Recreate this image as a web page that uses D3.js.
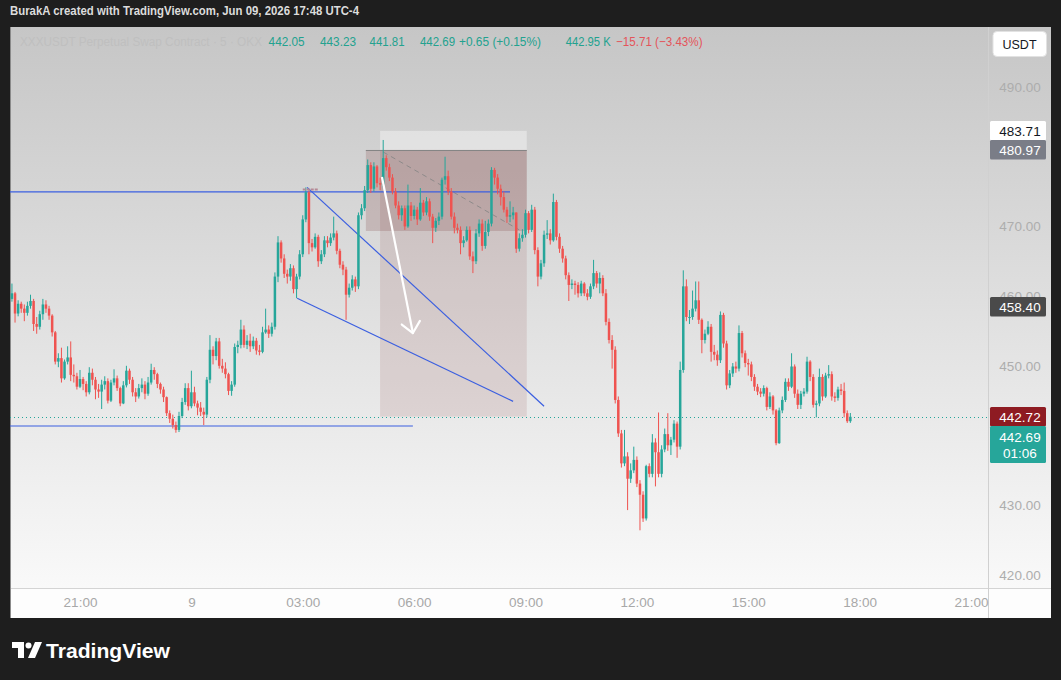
<!DOCTYPE html>
<html><head><meta charset="utf-8">
<script src="https://cdn.jsdelivr.net/npm/d3@7"></script>
<style>
html,body{margin:0;padding:0;background:#1e1e1e;}
svg{display:block;font-family:"Liberation Sans",Arial,sans-serif;}
</style></head><body>
<svg id="c" width="1061" height="680"></svg>
<script>
// ---------------- DATA ----------------
const firstBarTime = new Date(2026, 5, 8, 19, 10);   // 5-minute bars
const barMinutes = 5;
const firstOpen = 459.6;
const closes = [
460.4,457.5,458.9,458.2,457.6,458.6,459.3,456.0,455.6,457.4,
458.8,458.2,457.2,454.8,450.6,451.1,448.2,450.6,451.2,448.7,
448.5,447.0,448.1,447.4,446.2,449.0,448.0,446.6,446.3,447.3,
447.8,445.0,447.6,448.2,446.8,444.6,447.2,449.3,448.0,446.2,
445.6,446.8,447.3,446.0,447.6,449.4,448.8,447.4,446.6,445.5,
443.2,442.4,441.5,440.8,442.8,444.8,446.8,444.2,446.2,444.6,
444.0,443.4,443.0,448.0,452.3,451.4,453.5,450.0,449.6,448.8,
446.4,447.3,452.7,453.0,455.2,453.0,453.6,452.8,453.6,452.2,
452.0,454.8,455.2,454.6,455.6,462.8,467.7,465.4,463.2,462.8,
464.0,461.0,462.8,466.0,471.0,474.9,467.6,467.0,468.5,465.0,
466.0,468.0,467.6,468.4,469.0,466.5,464.5,463.8,460.2,461.2,
462.4,461.4,471.6,472.6,475.2,478.8,475.4,478.6,476.2,476.0,
479.8,478.5,477.0,475.0,473.0,471.6,472.6,470.0,473.0,471.5,
472.4,471.0,473.4,472.0,473.6,471.4,469.8,470.8,471.4,476.7,
477.2,475.0,471.4,469.8,469.5,467.6,468.0,469.5,465.7,465.0,
469.0,470.4,467.2,469.2,470.4,478.1,477.0,475.4,474.2,472.4,
471.4,471.6,472.0,466.8,468.3,468.8,471.9,469.5,472.4,466.6,
462.8,464.7,468.8,469.0,468.0,473.5,468.5,466.8,465.4,463.0,
461.6,461.8,461.6,460.4,461.8,460.4,459.9,461.4,463.3,461.8,
462.6,460.4,456.3,453.7,452.3,445.1,440.3,436.0,437.0,433.8,
435.0,436.5,433.1,431.5,428.1,435.6,434.5,439.0,437.6,434.5,
438.0,440.2,438.6,439.4,441.7,438.4,449.4,461.4,457.0,457.0,
458.2,459.4,456.6,453.7,454.6,455.6,452.0,451.6,450.8,457.3,
453.2,447.2,448.9,449.9,449.6,454.7,451.8,450.4,450.2,448.4,
447.0,446.3,446.0,446.8,444.1,445.6,443.6,438.9,443.6,445.1,
447.7,447.0,449.9,446.0,444.4,446.0,446.3,450.6,448.4,444.4,
444.6,448.4,445.6,448.6,448.8,445.6,445.4,446.6,446.4,443.2,
442.05,442.69
];
const highs = [
461.8,460.6,459.4,459.2,458.8,459.2,460.2,459.6,457.0,457.9,
459.6,459.4,458.6,457.4,455.0,451.8,452.6,450.9,452.8,453.5,
450.2,449.0,449.4,448.4,447.8,449.8,449.6,448.4,447.4,448.0,
448.5,448.2,448.0,449.5,448.6,447.0,447.8,450.0,449.6,448.4,
446.8,447.4,448.2,447.8,448.4,450.3,449.8,449.0,447.6,447.0,
445.6,443.6,443.0,442.0,443.4,445.4,447.5,447.5,449.3,447.0,
445.0,444.8,444.0,448.4,454.4,452.8,454.0,454.0,451.0,450.5,
449.0,447.8,453.2,453.6,456.6,455.8,454.4,454.6,454.2,454.0,
453.0,455.6,458.2,455.8,456.2,463.4,468.6,468.0,466.0,463.8,
464.6,464.4,463.2,466.6,471.6,475.6,475.2,468.2,469.0,468.8,
466.6,468.6,468.6,469.0,471.4,469.4,466.8,465.0,464.2,461.8,
463.0,462.8,472.0,473.2,475.8,479.6,479.2,479.2,478.8,477.0,
482.4,480.2,479.0,477.5,475.5,473.6,473.0,473.0,476.0,473.5,
473.0,472.8,475.5,473.8,474.2,474.0,471.8,471.2,472.0,477.0,
480.0,478.0,475.5,472.0,470.4,470.0,468.6,470.0,470.0,466.4,
469.6,471.0,471.0,470.8,471.0,478.5,478.4,477.5,476.0,475.0,
472.8,473.6,472.8,472.0,469.0,469.6,472.4,472.2,473.1,472.8,
467.0,465.2,469.4,470.9,469.6,474.7,473.8,469.0,467.2,465.8,
463.4,462.4,462.2,462.0,462.2,462.0,461.0,461.8,465.2,463.6,
463.4,463.0,461.0,456.8,454.4,452.8,445.6,440.8,440.8,437.6,
436.0,438.4,437.0,433.6,432.0,435.8,436.0,440.2,439.6,443.3,
438.6,441.0,443.2,439.8,442.2,442.0,450.6,463.7,462.4,458.0,
460.8,462.1,462.1,456.8,455.2,456.4,456.0,453.0,452.2,457.8,
457.6,453.6,449.4,450.4,450.6,455.8,455.0,452.2,451.0,450.6,
448.8,447.4,446.8,447.2,447.0,446.2,445.8,443.8,444.0,445.6,
448.2,448.2,451.8,450.2,446.6,446.4,446.8,451.3,450.8,448.8,
445.0,449.6,448.8,449.0,450.1,449.2,446.2,447.0,447.4,447.6,
443.6,443.23
];
const lows = [
459.2,456.2,457.1,457.6,456.4,457.2,458.2,455.0,454.6,455.2,
456.6,457.6,456.6,454.2,450.2,449.8,447.6,448.0,450.2,447.8,
447.6,446.6,446.8,446.5,445.6,445.9,447.2,445.2,445.4,443.8,
446.6,444.6,444.8,447.2,446.4,444.2,444.5,446.9,447.4,445.6,
444.8,445.3,446.2,445.2,445.7,447.3,448.0,446.8,446.0,444.8,
442.8,441.8,441.0,440.4,440.5,442.5,444.4,443.6,443.9,444.2,
442.9,442.8,441.5,442.6,447.5,450.2,450.8,449.6,449.0,448.2,
445.8,445.7,447.0,451.8,452.5,452.6,452.4,452.0,452.4,451.6,
451.5,451.8,454.6,454.0,454.2,455.2,462.0,464.8,462.6,461.8,
462.2,460.4,459.7,462.4,465.6,470.6,466.0,466.4,466.8,464.2,
464.6,465.6,467.0,467.2,468.0,466.0,464.0,463.0,456.6,459.8,
460.8,460.6,461.0,471.0,472.2,474.8,474.8,475.0,475.6,475.2,
475.6,478.0,476.5,474.6,472.6,471.0,470.8,469.5,469.8,470.8,
471.0,470.2,470.8,471.5,471.6,470.8,467.6,469.2,470.2,471.0,
476.0,474.5,471.0,469.0,469.0,466.0,467.0,467.8,465.2,463.3,
464.6,468.5,466.5,466.8,468.6,470.0,476.0,474.6,473.0,472.0,
470.5,470.6,471.0,466.2,466.4,467.8,468.4,469.0,469.2,466.0,
461.4,462.4,464.2,468.2,467.4,467.8,468.0,466.2,464.8,462.4,
459.3,461.0,460.2,459.8,460.0,460.0,459.4,459.6,461.0,461.2,
460.4,460.0,455.8,453.2,449.6,444.6,439.8,435.4,435.6,429.3,
433.2,434.6,432.6,426.4,427.6,427.8,434.0,434.0,432.7,434.0,
434.0,437.6,437.8,437.2,439.0,436.8,438.0,449.0,456.4,456.0,
456.6,457.8,456.0,451.8,453.2,454.4,450.6,450.8,450.0,450.4,
452.6,446.6,446.8,448.4,449.0,449.2,451.2,449.8,448.6,447.8,
446.4,445.8,445.5,445.6,443.6,443.8,443.0,438.6,438.8,443.2,
444.8,446.4,446.8,445.4,443.8,443.8,445.6,446.0,447.8,444.0,
442.6,444.2,445.0,445.4,448.2,445.0,444.8,445.0,445.8,442.6,
441.8,441.81
];
const priceTicks = [420, 430, 440, 450, 460, 470, 480, 490];
const timeTicks = [
  [new Date(2026,5,8,21,0), "21:00"], [new Date(2026,5,9,0,0), "9"],
  [new Date(2026,5,9,3,0), "03:00"], [new Date(2026,5,9,6,0), "06:00"],
  [new Date(2026,5,9,9,0), "09:00"], [new Date(2026,5,9,12,0), "12:00"],
  [new Date(2026,5,9,15,0), "15:00"], [new Date(2026,5,9,18,0), "18:00"],
  [new Date(2026,5,9,21,0), "21:00"]
];
const legendValues = ["442.05", "443.23", "441.81", "442.69", "+0.65 (+0.15%)", "442.95 K", "\u221215.71 (\u22123.43%)"];
const priceLabels = [
  {v: 483.71, text: "483.71", bg: "#ffffff", fg: "#131722"},
  {v: 480.97, text: "480.97", bg: "#7a7d87", fg: "#ffffff"},
  {v: 458.40, text: "458.40", bg: "#4a4a4a", fg: "#ffffff"},
  {v: 442.72, text: "442.72", bg: "#8e1b22", fg: "#ffffff"}
];
const lastPrice = 442.69, countdown = "01:06";
// drawings: [time, price]
const hLines = [
  [[new Date(2026,5,8,17,0), 474.94], [new Date(2026,5,9,8,35), 474.94]],
  [[new Date(2026,5,8,17,0), 441.36], [new Date(2026,5,9,5,58), 441.36]]
];
const trendLines = [
  [[new Date(2026,5,9,3,7), 475.6], [new Date(2026,5,9,9,30), 444.2]],
  [[new Date(2026,5,9,2,51), 459.7], [new Date(2026,5,9,8,40), 444.9]]
];
const positionTool = {t0: new Date(2026,5,9,5,5), t1: new Date(2026,5,9,9,2), entry: 480.97, stop: 483.71, target: 442.72};
const zoneRect = {t0: new Date(2026,5,9,4,42), t1: new Date(2026,5,9,9,2), top: 480.97, bottom: 469.34};
const dashedLine = [[new Date(2026,5,9,5,10), 480.67], [new Date(2026,5,9,8,50), 469.5]];
const arrowLine = [[new Date(2026,5,9,5,8), 477.1], [new Date(2026,5,9,5,58), 454.7]];

// ---------------- LAYOUT ----------------
const svg = d3.select("#c");
const P = {l: 10, r: 988, t: 27, b: 588, axR: 1051, axB: 618};
const x = d3.scaleTime().domain([new Date(2026,5,8,21,0), new Date(2026,5,9,21,0)]).range([80, 971]);
const y = d3.scaleLinear().domain([420, 490]).range([574.9, 87]);

const defs = svg.append("defs");
const grad = defs.append("linearGradient").attr("id", "bg").attr("x1", 0).attr("y1", 0).attr("x2", 0).attr("y2", 1);
grad.append("stop").attr("offset", "0%").attr("stop-color", "#c6c6c6");
grad.append("stop").attr("offset", "100%").attr("stop-color", "#f9f9f9");
defs.append("clipPath").attr("id", "plot").append("rect")
  .attr("x", P.l).attr("y", P.t).attr("width", P.r - P.l).attr("height", P.b - P.t);

// header
svg.append("text").attr("x", 10).attr("y", 15).attr("fill", "#dcdcdc")
  .attr("font-size", 13).attr("font-weight", 600)
  .attr("textLength", 349).attr("lengthAdjust", "spacingAndGlyphs")
  .text("BurakA created with TradingView.com, Jun 09, 2026 17:48 UTC-4");

// panel backgrounds
svg.append("rect").attr("x", P.l).attr("y", P.t).attr("width", P.axR - P.l).attr("height", P.b - P.t).attr("fill", "url(#bg)");
svg.append("rect").attr("x", P.l).attr("y", P.b).attr("width", P.axR - P.l).attr("height", P.axB - P.b).attr("fill", "#fdfdfd");
svg.append("line").attr("x1", P.l).attr("x2", P.axR).attr("y1", P.b + 0.5).attr("y2", P.b + 0.5).attr("stroke", "#d4d4d4");
svg.append("line").attr("x1", P.r + 0.5).attr("x2", P.r + 0.5).attr("y1", P.t).attr("y2", P.axB).attr("stroke", "#d0d0d0");
svg.append("line").attr("x1", P.l + 0.5).attr("x2", P.l + 0.5).attr("y1", P.t).attr("y2", P.axB).attr("stroke", "#8a8a8a");

const plot = svg.append("g").attr("clip-path", "url(#plot)");

// position tool & zone
const pt = positionTool;
plot.append("rect").attr("x", x(pt.t0)).attr("width", x(pt.t1) - x(pt.t0))
  .attr("y", y(pt.stop)).attr("height", y(pt.entry) - y(pt.stop)).attr("fill", "rgba(255,255,255,0.38)");
plot.append("rect").attr("x", x(pt.t0)).attr("width", x(pt.t1) - x(pt.t0))
  .attr("y", y(pt.entry)).attr("height", y(pt.target) - y(pt.entry)).attr("fill", "rgba(150,80,80,0.15)");
plot.append("rect").attr("x", x(zoneRect.t0)).attr("width", x(zoneRect.t1) - x(zoneRect.t0))
  .attr("y", y(zoneRect.top)).attr("height", y(zoneRect.bottom) - y(zoneRect.top)).attr("fill", "rgba(120,55,55,0.2)");
plot.append("line").attr("x1", x(zoneRect.t0)).attr("x2", x(zoneRect.t1))
  .attr("y1", Math.round(y(pt.entry)) + 0.5).attr("y2", Math.round(y(pt.entry)) + 0.5).attr("stroke", "#858585");
plot.append("line").attr("x1", x(dashedLine[0][0])).attr("y1", y(dashedLine[0][1]))
  .attr("x2", x(dashedLine[1][0])).attr("y2", y(dashedLine[1][1]))
  .attr("stroke", "#8e8a8a").attr("stroke-dasharray", "5,4").attr("stroke-width", 1);

// blue lines
hLines.concat(trendLines).forEach(l => {
  plot.append("line").attr("x1", x(l[0][0])).attr("y1", y(l[0][1])).attr("x2", x(l[1][0])).attr("y2", y(l[1][1]))
    .attr("stroke", "#3b5fe0").attr("stroke-width", 1.2);
});

// last price dotted line
plot.append("line").attr("x1", P.l).attr("x2", P.r).attr("y1", Math.round(y(442.72)) + 0.5).attr("y2", Math.round(y(442.72)) + 0.5)
  .attr("stroke", "#26a69a").attr("stroke-dasharray", "1,3");

// candles
const times = closes.map((_, i) => d3.timeMinute.offset(firstBarTime, barMinutes * i));
const bars = closes.map((c, i) => {
  const o = i === 0 ? firstOpen : closes[i - 1];
  return {t: times[i], o, c, h: Math.max(highs[i], o, c), l: Math.min(lows[i], o, c)};
});
const up = "#26a69a", dn = "#ef5350";
const cg = plot.append("g");
cg.selectAll("rect.w").data(bars).join("rect").attr("class", "w")
  .attr("x", d => x(d.t) - 0.5).attr("width", 1)
  .attr("y", d => y(d.h)).attr("height", d => Math.max(1, y(d.l) - y(d.h)))
  .attr("fill", d => d.c >= d.o ? up : dn);
cg.selectAll("rect.b").data(bars).join("rect").attr("class", "b")
  .attr("x", d => x(d.t) - 1.25).attr("width", 2.5)
  .attr("y", d => y(Math.max(d.o, d.c))).attr("height", d => Math.max(1, Math.abs(y(d.o) - y(d.c))))
  .attr("fill", d => d.c >= d.o ? up : dn);

// small marker at trendline start
plot.append("line").attr("x1", x(new Date(2026,5,9,3,0))).attr("x2", x(new Date(2026,5,9,3,25)))
  .attr("y1", y(475.3)).attr("y2", y(475.3)).attr("stroke", "#b58a96").attr("stroke-width", 2).attr("stroke-dasharray", "3,1");

// arrow
const a0 = [x(arrowLine[0][0]), y(arrowLine[0][1])], a1 = [x(arrowLine[1][0]), y(arrowLine[1][1])];
plot.append("line").attr("x1", a0[0]).attr("y1", a0[1]).attr("x2", a1[0]).attr("y2", a1[1])
  .attr("stroke", "#ffffff").attr("stroke-width", 2.2);
const ang = Math.atan2(a1[1] - a0[1], a1[0] - a0[0]);
const hl = 14;
[0.72, -0.72].forEach(da => {
  plot.append("line").attr("x1", a1[0]).attr("y1", a1[1])
    .attr("x2", a1[0] - hl * Math.cos(ang + da)).attr("y2", a1[1] - hl * Math.sin(ang + da))
    .attr("stroke", "#ffffff").attr("stroke-width", 2.2).attr("stroke-linecap", "round");
});

// legend
svg.append("text").attr("x", 20).attr("y", 46).attr("font-size", 12).attr("fill", "#bfbfbf")
  .attr("textLength", 242).attr("lengthAdjust", "spacingAndGlyphs")
  .text("XXXUSDT Perpetual Swap Contract \u00b7 5 \u00b7 OKX");
const legPos = [[268.6, 36], [320, 36], [369.6, 35], [420, 35], [459, 82], [565.7, 45], [616, 86.5]];
legendValues.forEach((s, i) => {
  svg.append("text").attr("x", legPos[i][0]).attr("y", 46).attr("font-size", 12.5)
    .attr("fill", i === 6 ? "#e4545a" : "#22a28f")
    .attr("textLength", legPos[i][1]).attr("lengthAdjust", "spacingAndGlyphs").text(s);
});

// right price axis (ticks fully hidden behind price labels are not drawn)
const covered = v => priceLabels.some(p => Math.abs(y(p.v) - y(v)) < 9);
const yAxis = d3.axisRight(y).tickValues(priceTicks.filter(v => !covered(v))).tickSize(0).tickPadding(0).tickFormat(d3.format(".2f"));
const gy = svg.append("g").attr("transform", `translate(${1020},0)`).call(yAxis);
gy.select(".domain").remove();
gy.selectAll("text").attr("text-anchor", "middle").attr("fill", "#adadad").attr("font-size", 13.5)
  .attr("font-family", "Liberation Sans, Arial, sans-serif");

// bottom time axis
const xAxis = d3.axisBottom(x).tickValues(timeTicks.map(d => d[0])).tickSize(0).tickPadding(0)
  .tickFormat((d, i) => timeTicks[i][1]);
const gx = svg.append("g").attr("transform", `translate(0,${597})`).call(xAxis);
gx.select(".domain").remove();
gx.selectAll("text").attr("fill", "#a8a8a8").attr("font-size", 13.5).attr("font-family", "Liberation Sans, Arial, sans-serif");

// USDT button
svg.append("rect").attr("x", 993).attr("y", 31.5).attr("width", 53.5).attr("height", 25).attr("rx", 4)
  .attr("fill", "#ffffff").attr("stroke", "#e2e2e2");
svg.append("text").attr("x", 1019.5).attr("y", 48.5).attr("text-anchor", "middle").attr("font-size", 12.5)
  .attr("fill", "#131722").text("USDT");

// price labels
priceLabels.forEach(p => {
  const cy = y(p.v);
  svg.append("rect").attr("x", 990).attr("y", Math.round(cy - 9.8)).attr("width", 56).attr("height", 19.6).attr("rx", 1.5).attr("fill", p.bg);
  svg.append("text").attr("x", 1020).attr("y", cy + 5).attr("text-anchor", "middle").attr("font-size", 13.5)
    .attr("fill", p.fg).text(p.text);
});
const ly = y(442.72) + 9.8;
svg.append("rect").attr("x", 990).attr("y", Math.round(ly)).attr("width", 56).attr("height", 37).attr("rx", 1.5).attr("fill", "#26a69a");
svg.append("text").attr("x", 1020).attr("y", ly + 15.5).attr("text-anchor", "middle").attr("font-size", 13.5).attr("fill", "#ffffff").text(d3.format(".2f")(lastPrice));
svg.append("text").attr("x", 1020).attr("y", ly + 32).attr("text-anchor", "middle").attr("font-size", 13.5).attr("fill", "#ffffff").text(countdown);

// TradingView logo
const logo = svg.append("g").attr("fill", "#ffffff");
logo.append("path").attr("d", "M12,642 h12 v16 h-6 v-10 h-6 z");
logo.append("circle").attr("cx", 28.5).attr("cy", 645.5).attr("r", 3);
logo.append("path").attr("d", "M35,642 h7 l-7,16 h-7 z");
svg.append("text").attr("x", 46).attr("y", 658).attr("font-size", 20).attr("font-weight", 600)
  .attr("fill", "#ffffff").attr("textLength", 124).attr("lengthAdjust", "spacingAndGlyphs").text("TradingView");
</script>
</body></html>
